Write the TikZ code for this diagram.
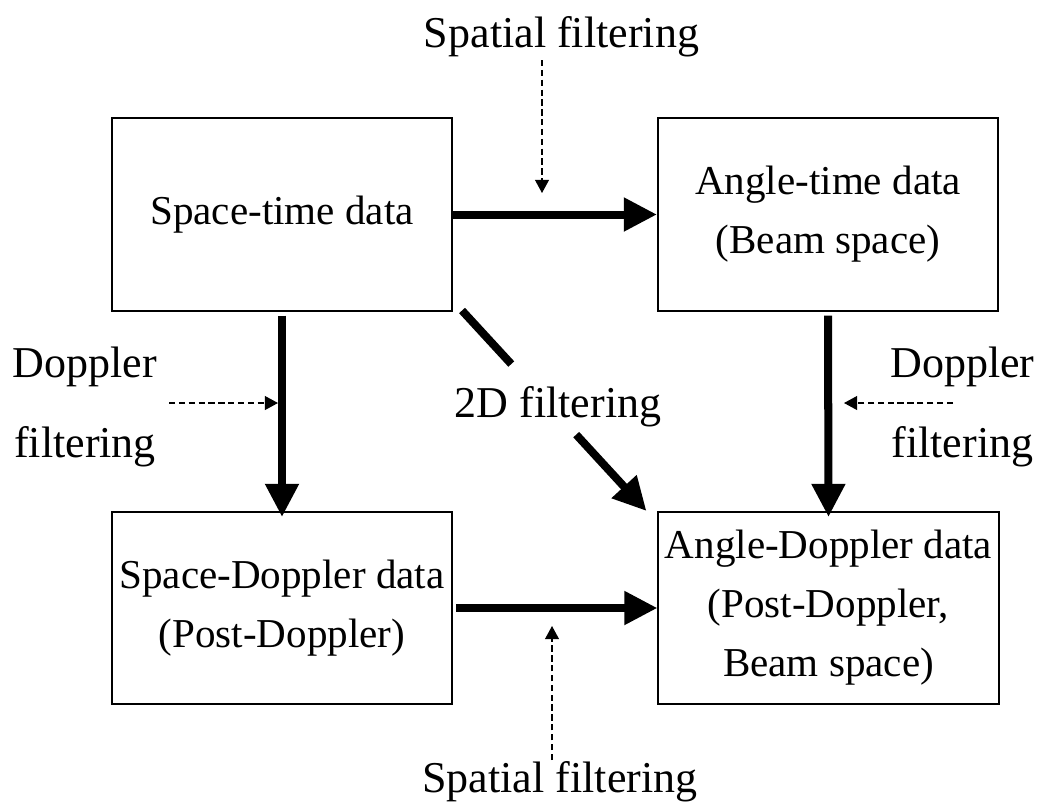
\documentclass[tikz,border=0pt]{standalone}
\usepackage{fontspec}
\setmainfont{Liberation Serif}
\usetikzlibrary{
    calc,
    arrows.meta,
    positioning
}
\tikzset{
    % one box per data domain
    domainbox/.style={
        draw,
        line width=1.4pt,
        minimum width=8.5cm,
        minimum height=4.8cm,
        inner sep=0pt,
        align=center,
        font=\fontsize{29.2}{42}\selectfont
    },
    % texts beside the arrows
    hintlabel/.style={
        inner sep=0pt,
        align=center,
        font=\fontsize{31.3}{56.9}\selectfont
    },
    thickline/.style={line width=5.7pt},
    bigarrow/.style={
        thickline,
        -{Triangle[length=0.83cm,width=0.8cm]}
    },
    hintarrow/.style={
        line width=0.85pt,
        dash pattern=on 4.5pt off 2.5pt,
        -{Triangle[length=0.33cm,width=0.35cm]}
    }
}

\begin{document}
\begin{tikzpicture}[x=0.025cm, y=-0.025cm]
    \useasboundingbox (0,0) rectangle (1038,805);

    \node[domainbox] (st) at (282,214.5) {Space-time data};
    \node[domainbox] (at) at (828,214.5) {Angle-time data\\(Beam space)};
    \node[domainbox] (sd) at (282,608) {Space-Doppler data\\(Post-Doppler)};
    \node[domainbox] (ad) at (828.5,608) {Angle-Doppler data\\(Post-Doppler,\\Beam space)};

    \node[hintlabel, anchor=base] (spatT) at (561.5,47) {Spatial filtering};
    \node[hintlabel, anchor=base] (spatB) at (560,792) {Spatial filtering};
    \node[hintlabel] (dopL) at (85,407) {Doppler\\filtering};
    \node[hintlabel] (dopR) at (962.5,407) {Doppler\\filtering};
    \node[hintlabel, anchor=base] (twoD) at (558,417) {2D filtering};

    % main transforms
    \draw[bigarrow, shorten <=0.075cm] (sd.east) -- (ad.west);
    \draw[bigarrow] (st.east) -- (at.west);
    \draw[bigarrow, shorten <=0.1cm, shorten >=-0.15cm] (st.south) -- (sd.north);
    \draw[bigarrow, shorten <=0.1cm, shorten >=-0.15cm] (at.south) -- (ad.north);

    \coordinate (dgA) at ($(st.south east)+(9,-1)$);
    \coordinate (dgB) at ($(ad.north west)+(-11,0)$);
    \draw[thickline] (dgA) -- ($(dgA)!0.267!(dgB)$);
    \draw[bigarrow] ($(dgA)!0.619!(dgB)$) -- (dgB);

    % filtering hints
    \coordinate (hintT) at (542,60);
    \coordinate (hintB) at (552,760);
    \coordinate (hintL) at (169,403);
    \coordinate (hintR) at (953,403);
    \coordinate (tipT) at (542,193);
    \coordinate (tipB) at (552,626);
    \coordinate (tipL) at (278,403);
    \coordinate (tipR) at (844,403);
    \foreach \h in {T, B, L, R} {
        \draw[hintarrow] (hint\h) -- (tip\h);
    }
\end{tikzpicture}
\end{document}
